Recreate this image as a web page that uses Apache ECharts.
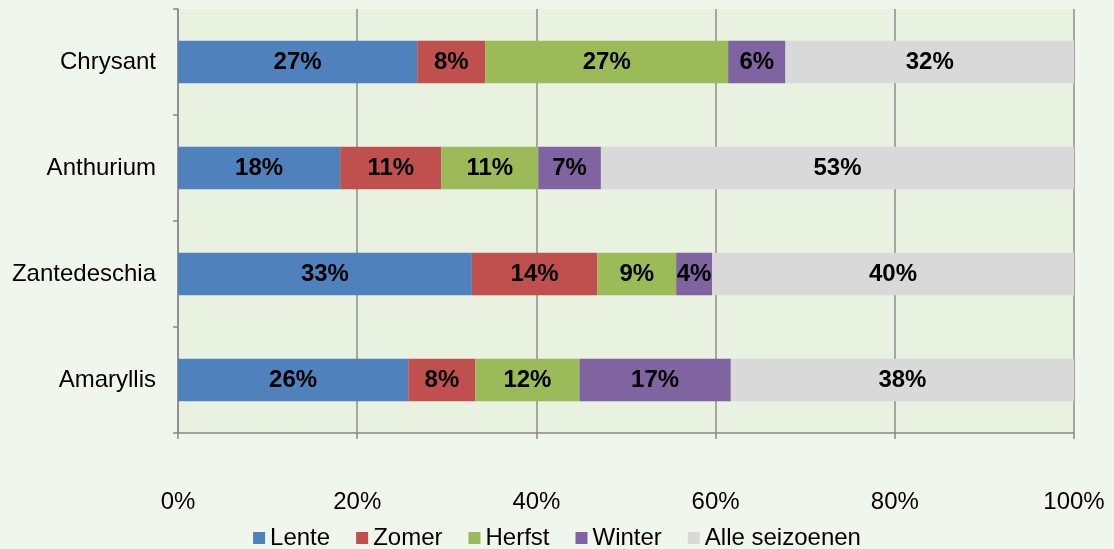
<!DOCTYPE html>
<html><head><meta charset="utf-8">
<script src="https://cdn.jsdelivr.net/npm/echarts@6/dist/echarts.min.js"></script>
<style>html,body{margin:0;padding:0;background:#F0F6EC;}#c{width:1114px;height:549px;}</style>
</head><body><div id="c"></div>
<script>
const categories = ['Amaryllis', 'Zantedeschia', 'Anthurium', 'Chrysant'];
const lente = [25.7, 32.8, 18.1, 26.7];
const zomer = [7.5, 14.0, 11.3, 7.6];
const herfst = [11.6, 8.8, 10.8, 27.1];
const winter = [16.9, 4.0, 7.0, 6.4];
const alle = [38.3, 40.4, 52.8, 32.2];
const seriesNames = ['Lente', 'Zomer', 'Herfst', 'Winter', 'Alle seizoenen'];
const xTicks = [0, 20, 40, 60, 80, 100];

const colors = ['#4F81BD', '#C0504D', '#9BBB59', '#8064A2', '#D9D9D9'];
const data = [lente, zomer, herfst, winter, alle];
const chart = echarts.init(document.getElementById('c'));
const font = 'Liberation Sans, Arial, sans-serif';
chart.setOption({
  backgroundColor: '#F0F6EC',
  animation: false,
  grid: { left: 178, right: 40, top: 9, bottom: 116, backgroundColor: '#E9F2E1', show: true, borderWidth: 0 },
  legend: {
    top: 521, left: 'center', itemWidth: 12, itemHeight: 12, itemGap: 26,
    icon: 'rect',
    textStyle: { fontFamily: font, fontSize: 24, color: '#000' },
    data: seriesNames
  },
  xAxis: {
    type: 'value', min: 0, max: 100, interval: 20,
    axisLine: { show: true, lineStyle: { color: '#888', width: 1.5 } },
    axisTick: { show: true, length: 6, lineStyle: { color: '#888', width: 1.5 } },
    splitLine: { show: true, lineStyle: { color: '#8c8c8c', width: 1.5 } },
    axisLabel: { fontFamily: font, fontSize: 24, color: '#000', margin: 57,
      formatter: v => xTicks.includes(v) ? v + '%' : '' }
  },
  yAxis: {
    type: 'category', data: categories,
    axisLine: { show: true, lineStyle: { color: '#888', width: 1.5 } },
    axisTick: { show: true, length: 5, lineStyle: { color: '#888', width: 1.5 } },
    axisLabel: { fontFamily: font, fontSize: 24, color: '#000', margin: 22 }
  },
  series: data.map((d, i) => ({
    name: seriesNames[i], type: 'bar', stack: 'total', data: d,
    barCategoryGap: '60%',
    itemStyle: { color: colors[i] },
    label: { show: true, position: 'inside', fontFamily: font, fontSize: 24, fontWeight: 'bold', color: '#000',
      formatter: p => Math.round(p.value) + '%' }
  }))
});
</script></body></html>
